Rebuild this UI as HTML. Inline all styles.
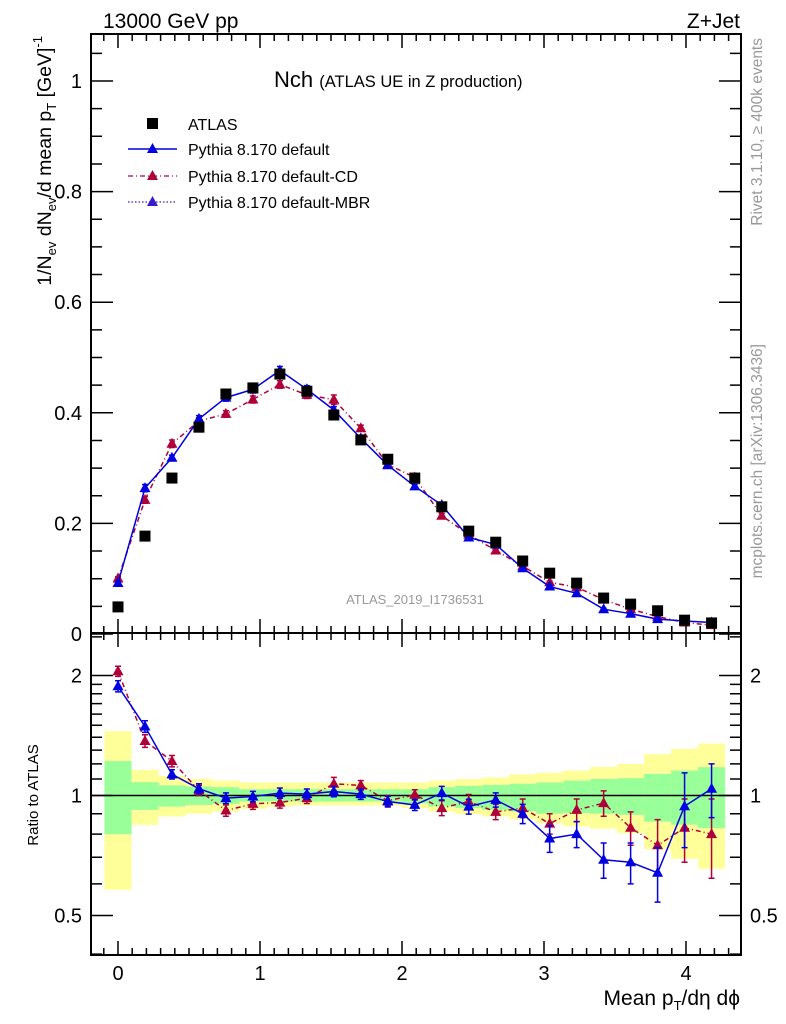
<!DOCTYPE html>
<html><head><meta charset="utf-8"><style>
body{margin:0;background:#fff;}
svg{display:block;font-family:"Liberation Sans",sans-serif;}
</style></head><body>
<svg id="c" width="786" height="1024" viewBox="0 0 786 1024" xmlns="http://www.w3.org/2000/svg">
<g id="bands"></g>
<g id="marks"></g>
<g id="axes"></g>
<text x="103" y="28" font-size="21">13000 GeV pp</text>
<text x="740" y="28" font-size="21" text-anchor="end">Z+Jet</text>
<text x="274" y="87" font-size="22">Nch <tspan font-size="16.5">(ATLAS UE in Z production)</tspan></text>
<text x="415" y="604" font-size="13" fill="#999" text-anchor="middle">ATLAS_2019_I1736531</text>
<g>
<rect x="147" y="118" width="11" height="11" fill="#000"/>
<text x="188" y="130" font-size="16">ATLAS</text>
<line x1="128" y1="149" x2="177" y2="149" stroke="#0000e0" stroke-width="1.5"/>
<path d="M152.5 143 L158 153 L147 153Z" fill="#0000e0"/>
<text x="188" y="155" font-size="16">Pythia 8.170 default</text>
<line x1="128" y1="176" x2="177" y2="176" stroke="#b0003a" stroke-width="1.2" stroke-dasharray="5,3,1,3"/>
<path d="M152.5 170 L158 180 L147 180Z" fill="#b0003a"/>
<text x="188" y="182" font-size="16">Pythia 8.170 default-CD</text>
<line x1="128" y1="202" x2="177" y2="202" stroke="#3a1ad0" stroke-width="1.2" stroke-dasharray="1.5,2"/>
<path d="M152.5 196 L158 206 L147 206Z" fill="#3a1ad0"/>
<text x="188" y="208" font-size="16">Pythia 8.170 default-MBR</text>
</g>
<text transform="translate(51,36) rotate(-90)" font-size="19.5" text-anchor="end">1/N<tspan font-size="13" dy="5">ev</tspan><tspan dy="-5"> dN</tspan><tspan font-size="13" dy="5">ev</tspan><tspan dy="-5">/d mean p</tspan><tspan font-size="13" dy="5">T</tspan><tspan dy="-5"> [GeV]</tspan><tspan font-size="13" dy="-9">-1</tspan></text>
<text transform="translate(38,795) rotate(-90)" font-size="15" text-anchor="middle">Ratio to ATLAS</text>
<text x="740" y="1005" font-size="21" text-anchor="end">Mean p<tspan font-size="13" dy="5">T</tspan><tspan dy="-5">/dη dϕ</tspan></text>
<text transform="translate(762,38) rotate(-90)" font-size="15.5" fill="#999" text-anchor="end">Rivet 3.1.10, ≥ 400k events</text>
<text transform="translate(762,344) rotate(-90)" font-size="15.5" fill="#999" text-anchor="end">mcplots.cern.ch [arXiv:1306.3436]</text>
</svg>
<script>
const xs=[0,0.19,0.38,0.57,0.76,0.95,1.14,1.33,1.52,1.71,1.9,2.09,2.28,2.47,2.66,2.85,3.04,3.23,3.42,3.61,3.8,3.99,4.18];
const atlas=[0.049,0.177,0.282,0.374,0.434,0.445,0.470,0.439,0.396,0.351,0.316,0.282,0.230,0.186,0.166,0.132,0.110,0.092,0.065,0.054,0.042,0.025,0.020];
const blueRatio=[1.88,1.49,1.13,1.04,0.985,0.994,1.014,1.008,1.023,1.008,0.966,0.947,1.014,0.938,0.975,0.90,0.78,0.80,0.69,0.68,0.64,0.94,1.04];
const redRatio=[2.05,1.37,1.22,1.03,0.917,0.953,0.96,0.985,1.07,1.06,0.97,1.004,0.93,0.966,0.91,0.93,0.85,0.92,0.957,0.83,0.75,0.83,0.80];
const blueErr=[0.06,0.05,0.03,0.03,0.03,0.03,0.03,0.03,0.03,0.03,0.03,0.03,0.04,0.04,0.04,0.05,0.06,0.06,0.07,0.08,0.1,0.2,0.16];
const redErr=[0.06,0.05,0.04,0.03,0.03,0.03,0.03,0.03,0.04,0.03,0.03,0.03,0.04,0.04,0.04,0.05,0.05,0.06,0.07,0.08,0.12,0.15,0.18];
const yelHi=[1.45,1.16,1.12,1.10,1.09,1.078,1.078,1.078,1.078,1.078,1.078,1.078,1.09,1.10,1.11,1.13,1.14,1.155,1.18,1.20,1.27,1.31,1.35];
const yelLo=[0.58,0.844,0.886,0.90,0.912,0.926,0.938,0.944,0.944,0.944,0.944,0.93,0.912,0.898,0.886,0.872,0.852,0.836,0.825,0.804,0.733,0.694,0.655];
const grnHi=[1.22,1.08,1.06,1.053,1.049,1.037,1.037,1.037,1.037,1.037,1.037,1.037,1.049,1.057,1.063,1.07,1.078,1.09,1.10,1.105,1.133,1.155,1.178];
const grnLo=[0.80,0.92,0.938,0.947,0.953,0.966,0.966,0.966,0.966,0.966,0.966,0.957,0.938,0.93,0.92,0.912,0.90,0.903,0.90,0.894,0.86,0.845,0.828];
const yTicks=[0,0.2,0.4,0.6,0.8,1];
const xTicks=[0,1,2,3,4];
const rTicks=[0.5,1,2];

const NS="http://www.w3.org/2000/svg";
const X0=91,X1=741,Y0=34,YM=633,Y1=955;
const sx=v=>118+142*v;
const sy=v=>634-553*v;
const sr=r=>795.5-120*Math.log2(r);
function mk(parent,tag,attrs){const e=document.createElementNS(NS,tag);for(const k in attrs)e.setAttribute(k,attrs[k]);document.getElementById(parent).appendChild(e);return e;}
const hw=0.095;
xs.forEach((x,i)=>{
  const a=sx(x-hw),b=sx(x+hw);
  let e=mk('bands','rect',{x:a,y:sr(yelHi[i]),width:b-a,height:sr(yelLo[i])-sr(yelHi[i]),fill:'#ffff99'});
  
  
  e=mk('bands','rect',{x:a,y:sr(grnHi[i]),width:b-a,height:sr(grnLo[i])-sr(grnHi[i]),fill:'#99ff99'});
  
  
});
let ln=mk('bands','line',{x1:X0,x2:X1,y1:sr(1),y2:sr(1),stroke:'#000','stroke-width':1.5});


function tri(cx,cy){return `M${cx} ${cy-6}L${cx+5.5} ${cy+4}L${cx-5.5} ${cy+4}Z`;}
function series(ratio,err,col,dash,name){
  const mp=xs.map((x,i)=>[sx(x),sy(atlas[i]*ratio[i])]);
  const rp=xs.map((x,i)=>[sx(x),sr(ratio[i])]);
  [[mp,'main'],[rp,'ratio']].forEach(([pts,pn])=>{
    const p=mk('marks','polyline',{points:pts.map(q=>q.join(',')).join(' '),fill:'none',stroke:col,'stroke-width':1.5,'stroke-dasharray':dash});
    
    
  });
  xs.forEach((x,i)=>{
    const cx=sx(x);
    const v=atlas[i]*ratio[i];
    const ev=v*err[i]*0.5;
    [[sy(v),sy(v+ev),sy(v-ev)],[sr(ratio[i]),sr(ratio[i]+err[i]),sr(Math.max(ratio[i]-err[i],0.3))]].forEach(([cy,t,b])=>{
      const e=mk('marks','path',{d:`M${cx} ${t}V${b}M${cx-3} ${t}H${cx+3}M${cx-3} ${b}H${cx+3}`,stroke:col,'stroke-width':1.5,fill:'none'});
      
      
      const m=mk('marks','path',{d:tri(cx,cy),fill:col});
      
      
    });
  });
}
series(redRatio,redErr,'#b0003a','5,3,1,3','default-cd');
series(blueRatio,blueErr,'#0000e0','none','default');
xs.forEach((x,i)=>{
  const r=mk('marks','rect',{x:sx(x)-5.5,y:sy(atlas[i])-5.5,width:11,height:11,fill:'#000'});
  
  
});
[[Y0,YM],[YM,Y1]].forEach(([t,b])=>{
  const f=mk('axes','rect',{x:X0,y:t,width:X1-X0,height:b-t,fill:'none',stroke:'#000','stroke-width':2});
  
  
});
let d='';
for(let k=-1;k<=43;k++){const v=k/10;const px=sx(v);if(px<=X0||px>=X1)continue;const L=(k%10===0)?14:7;
  d+=`M${px} ${YM}V${YM-L}M${px} ${Y0}V${Y0+L}M${px} ${Y1}V${Y1-L}M${px} ${YM}V${YM+L}`;}
for(let k=0;k<=21;k++){const v=k*0.05;const py=sy(v);if(py<Y0)continue;const L=(k%4===0)?22:11;
  d+=`M${X0} ${py}H${X0+L}M${X1} ${py}H${X1-L}`;}
[0.4,0.5,0.6,0.7,0.8,0.9,1,1.1,1.2,1.3,1.4,1.5,1.6,1.7,1.8,1.9,2,2.5].forEach(r=>{const py=sr(r);if(py<YM||py>Y1)return;const L=rTicks.includes(r)?22:11;
  d+=`M${X0} ${py}H${X0+L}M${X1} ${py}H${X1-L}`;});
const tk=mk('axes','path',{d:d,stroke:'#000','stroke-width':1.5,fill:'none'});


yTicks.forEach(v=>{
  const t=mk('axes','text',{x:82,y:sy(v)+7,'font-size':20,'text-anchor':'end'});t.textContent=String(v);
  
  
});
xTicks.forEach(v=>{
  const t=mk('axes','text',{x:sx(v),y:980,'font-size':20,'text-anchor':'middle'});t.textContent=String(v);
  
  
});
rTicks.forEach(v=>{
  [[82,'end'],[750,'start']].forEach(([x,a])=>{
    const t=mk('axes','text',{x:x,y:sr(v)+7,'font-size':20,'text-anchor':a});t.textContent=String(v);
    
    
  });
});
</script>
</body></html>
